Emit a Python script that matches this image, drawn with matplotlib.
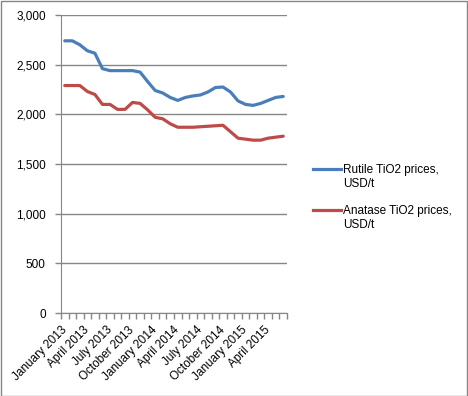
import matplotlib
matplotlib.use('Agg')
import matplotlib.pyplot as plt
from matplotlib.lines import Line2D
from matplotlib.patches import Rectangle

plt.rcParams['font.family'] = ['Liberation Sans', 'DejaVu Sans']

# monthly prices, Jan 2013 .. Jun 2015
months = ['January 2013', 'February 2013', 'March 2013', 'April 2013', 'May 2013', 'June 2013',
          'July 2013', 'August 2013', 'September 2013', 'October 2013', 'November 2013', 'December 2013',
          'January 2014', 'February 2014', 'March 2014', 'April 2014', 'May 2014', 'June 2014',
          'July 2014', 'August 2014', 'September 2014', 'October 2014', 'November 2014', 'December 2014',
          'January 2015', 'February 2015', 'March 2015', 'April 2015', 'May 2015', 'June 2015']
rutile = [2740, 2740, 2700, 2640, 2615, 2460, 2440, 2440, 2440, 2440, 2425, 2330, 2240, 2215, 2170,
          2140, 2170, 2185, 2195, 2225, 2270, 2275, 2225, 2135, 2100, 2090, 2110, 2140, 2170, 2180]
anatase = [2290, 2290, 2290, 2230, 2200, 2100, 2100, 2050, 2050, 2120, 2110, 2045, 1970, 1955, 1905,
           1870, 1870, 1870, 1875, 1880, 1885, 1890, 1825, 1760, 1750, 1740, 1740, 1760, 1770, 1780]
series_names = ['Rutile TiO2 prices,\nUSD/t', 'Anatase TiO2 prices,\nUSD/t']
colors = ['#4A7EBB', '#BE4B48']
yticks = [0, 500, 1000, 1500, 2000, 2500, 3000]

grey = '#868686'
W, H = 468, 396
fig = plt.figure(figsize=(W / 100, H / 100), dpi=100)
ax = fig.add_axes([61 / W, 1 - 313 / H, (287 - 61) / W, (313 - 15) / H])

x = list(range(len(months)))
for vals, c in zip([rutile, anatase], colors):
    ax.plot(x, vals, color=c, lw=2.3, solid_joinstyle='round', solid_capstyle='round', zorder=3)

ax.set_xlim(-0.5, len(months) - 0.5)
ax.set_ylim(0, 3000)
ax.set_yticks(yticks)
ax.set_yticklabels([f'{v:,}' for v in yticks])
ax.yaxis.grid(True, color=grey, lw=1)
ax.set_axisbelow(True)

ax.set_xticks(x[::3])
ax.set_xticklabels(months[::3], rotation=45, ha='right', va='center', rotation_mode='anchor')
ax.set_xticks([i - 0.5 for i in range(len(months) + 1)], minor=True)
ax.tick_params(axis='x', which='major', length=0, pad=11, labelsize=8.5)
ax.tick_params(axis='x', which='minor', length=4, color=grey, width=1)
ax.tick_params(axis='y', length=4, color=grey, width=1, pad=7, labelsize=8.5)

for s in ['top', 'right']:
    ax.spines[s].set_visible(False)
for s in ['left', 'bottom']:
    ax.spines[s].set_color(grey)

# legend drawn by hand so the line sits on the first text row
for name, c, yl, yt in zip(series_names, colors, [169, 210], [177, 218]):
    fig.add_artist(Line2D([313 / W, 341 / W], [1 - yl / H, 1 - yl / H], color=c, lw=2.3,
                          transform=fig.transFigure))
    fig.text(343 / W, 1 - yt / H, name, fontsize=8.5, va='center', ha='left', linespacing=1.3)

fig.add_artist(Rectangle((0.5 / W, 0.5 / H), 1 - 1.5 / W, 1 - 1.5 / H, transform=fig.transFigure,
                         fill=False, edgecolor=grey, lw=1))

fig.savefig('out.png', dpi=100)
